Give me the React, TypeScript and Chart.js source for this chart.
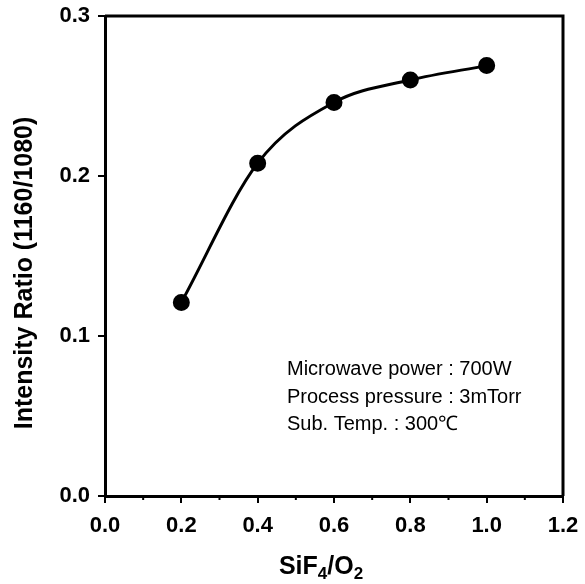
import React, { useEffect, useRef } from "react";
import { Chart, registerables } from "chart.js";

Chart.register(...registerables);

const ratioX = [0.2, 0.4, 0.6, 0.8, 1.0];
const ratioY = [0.121, 0.208, 0.246, 0.26, 0.269];
const minorXTicks = [0.1, 0.3, 0.5, 0.7, 0.9, 1.1];
const annotationLines = [
  "Microwave power : 700W",
  "Process pressure : 3mTorr",
  "Sub. Temp. : 300\u2103",
];
const yTitle = "Intensity Ratio (1160/1080)";

const W = 585;
const H = 584;
const FONT = "Arial, 'Liberation Sans', sans-serif";

const decorPlugin = {
  id: "decor",
  afterDraw(chart: any) {
    const ctx = chart.ctx as CanvasRenderingContext2D;
    const { left, right, top, bottom } = chart.chartArea;
    const xs = chart.scales.x;
    ctx.save();
    ctx.strokeStyle = "#000";
    ctx.lineWidth = 3;
    ctx.beginPath();
    ctx.moveTo(left, top);
    ctx.lineTo(right, top);
    ctx.lineTo(right, bottom);
    ctx.stroke();
    ctx.lineWidth = 2;
    minorXTicks.forEach((v) => {
      const px = xs.getPixelForValue(v);
      ctx.beginPath();
      ctx.moveTo(px, bottom);
      ctx.lineTo(px, bottom + 4);
      ctx.stroke();
    });
    ctx.fillStyle = "#000";
    ctx.font = `20px ${FONT}`;
    ctx.textAlign = "left";
    ctx.textBaseline = "alphabetic";
    annotationLines.forEach((t, i) => {
      ctx.fillText(t, 287, 375 + i * 27.5);
    });
    const big = `bold 25px ${FONT}`;
    const small = `bold 17px ${FONT}`;
    const parts: [string, boolean][] = [
      ["SiF", false],
      ["4", true],
      ["/O", false],
      ["2", true],
    ];
    let total = 0;
    parts.forEach(([s, sub]) => {
      ctx.font = sub ? small : big;
      total += ctx.measureText(s).width;
    });
    let x = 321 - total / 2;
    const base = 574;
    parts.forEach(([s, sub]) => {
      ctx.font = sub ? small : big;
      ctx.fillText(s, x, sub ? base + 5 : base);
      x += ctx.measureText(s).width;
    });
    ctx.translate(25, 273);
    ctx.rotate(-Math.PI / 2);
    ctx.font = `bold 25px ${FONT}`;
    ctx.textAlign = "center";
    ctx.textBaseline = "middle";
    ctx.fillText(yTitle, 0, 0);
    ctx.restore();
  },
};

export default function App() {
  const ref = useRef<HTMLCanvasElement>(null);
  useEffect(() => {
    if (!ref.current) return;
    const chart = new Chart(ref.current, {
      type: "scatter",
      data: {
        datasets: [
          {
            data: ratioX.map((x, i) => ({ x, y: ratioY[i] })),
            showLine: true,
            borderColor: "#000",
            backgroundColor: "#000",
            borderWidth: 3,
            tension: 0.4,
            cubicInterpolationMode: "monotone",
            pointRadius: 7,
            pointHoverRadius: 7,
            pointBackgroundColor: "#000",
            pointBorderColor: "#000",
          } as any,
        ],
      },
      options: {
        responsive: false,
        animation: false,
        layout: { padding: { top: 16, right: 22, left: 0, bottom: 0 } },
        plugins: {
          legend: { display: false },
          tooltip: { enabled: false },
        },
        scales: {
          x: {
            type: "linear",
            min: 0,
            max: 1.2,
            afterFit: (s: any) => {
              s.height = 88;
              s.paddingLeft = 0;
              s.paddingRight = 0;
            },
            ticks: {
              stepSize: 0.2,
              padding: 10,
              color: "#000",
              font: { family: FONT, size: 22, weight: "bold" },
              callback: (v: any) => Number(v).toFixed(1),
              maxRotation: 0,
            },
            grid: {
              drawOnChartArea: false,
              drawTicks: true,
              tickLength: 7,
              color: "#000",
              lineWidth: 2,
            },
            border: { display: true, color: "#000", width: 3 },
          },
          y: {
            type: "linear",
            min: 0,
            max: 0.3,
            afterFit: (s: any) => {
              s.width = 105;
              s.paddingTop = 0;
              s.paddingBottom = 0;
            },
            ticks: {
              stepSize: 0.1,
              padding: 8,
              color: "#000",
              font: { family: FONT, size: 22, weight: "bold" },
              callback: (v: any) => Number(v).toFixed(1),
            },
            grid: {
              drawOnChartArea: false,
              drawTicks: true,
              tickLength: 7,
              color: "#000",
              lineWidth: 2,
            },
            border: { display: true, color: "#000", width: 3 },
          },
        },
      },
      plugins: [decorPlugin],
    });
    return () => chart.destroy();
  }, []);
  return (
    <div style={{ position: "fixed", left: 0, top: 0, width: W, height: H, background: "#fff" }}>
      <canvas ref={ref} width={W} height={H} style={{ width: W, height: H, display: "block" }} />
    </div>
  );
}
